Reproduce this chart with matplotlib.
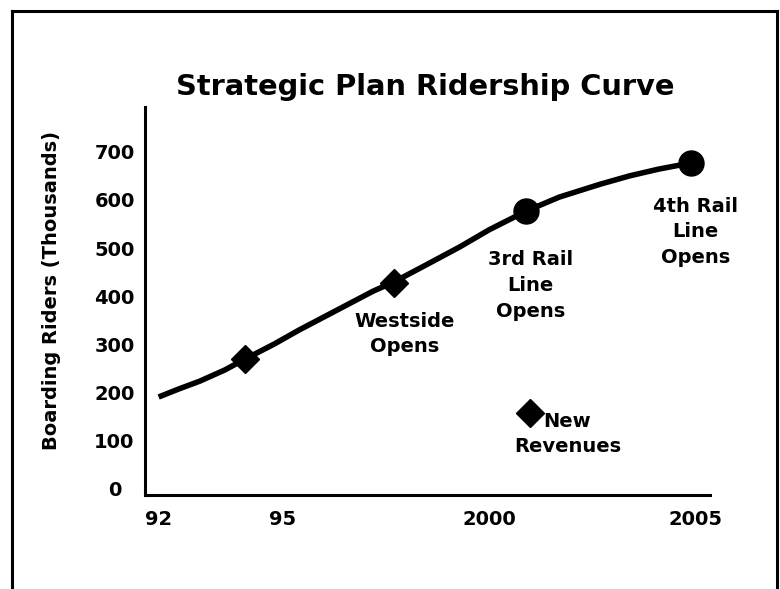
import matplotlib
matplotlib.use("Agg")
import matplotlib.pyplot as plt
from matplotlib.lines import Line2D

# ridership curve (year, thousands of riders)
curve_years = [1992.0, 1992.5, 1993.0, 1993.6, 1994.1, 1994.8, 1995.4, 1996.0, 1996.6, 1997.2,
               1997.7, 1998.45, 1999.3, 2000.0, 2000.9, 2001.7, 2002.7, 2003.4, 2004.1, 2004.9]
curve_riders = [191, 208, 224, 247, 270, 301, 330, 357, 384, 411,
                430, 464, 503, 538, 577, 606, 633, 650, 664, 677]

# milestones on the curve
diamond_years = [1994.1, 1997.7]
diamond_riders = [270, 428]
circle_years = [2000.9, 2004.9]
circle_riders = [577, 677]

# new revenues point
revenue_year = [2001.0]
revenue_riders = [158]

xticks = [1992, 1995, 2000, 2005]
xtick_labels = ["92", "95", "2000", "2005"]
yticks = [0, 100, 200, 300, 400, 500, 600, 700]

plt.rcParams['font.family'] = "DejaVu Sans"
plt.rcParams['font.weight'] = 'bold'

fig = plt.figure(figsize=(7.8, 5.89), dpi=100)
ax = fig.add_axes([0.1859, 0.1596, 0.7244, 0.6587])

ax.plot(curve_years, curve_riders, color='black', lw=4, solid_joinstyle='round',
        solid_capstyle='butt', zorder=2)
ax.plot(diamond_years, diamond_riders, 'D', color='black', ms=14, zorder=3)
ax.plot(circle_years, circle_riders, 'o', color='black', ms=18, zorder=3)
ax.plot(revenue_year, revenue_riders, 'D', color='black', ms=14, zorder=3)

ax.set_xlim(1991.67, 2005.35)
ax.set_ylim(-12.5, 793)

for s in ['top', 'right']:
    ax.spines[s].set_visible(False)
for s in ['left', 'bottom']:
    ax.spines[s].set_linewidth(2.2)

ax.set_xticks(xticks)
ax.set_xticklabels(xtick_labels, fontsize=14, fontweight='bold')
ax.set_yticks(yticks)
ax.set_yticklabels([str(v) for v in yticks], fontsize=14, fontweight='bold')
ax.tick_params(axis='x', length=0, pad=11)
ax.tick_params(axis='y', length=0, pad=22)
for lab in ax.get_yticklabels():
    lab.set_horizontalalignment('center')

# annotations
txt = dict(fontsize=14, fontweight='bold', ha='center', va='center', linespacing=1.45)
ax.text(1997.96, 322, "Westside\nOpens", **txt)
ax.text(2001.0, 422, "3rd Rail\nLine\nOpens", **txt)
ax.text(2004.99, 534, "4th Rail\nLine\nOpens", **txt)
ax.text(2001.9, 114, "New\nRevenues", **txt)

# title and y label
fig.text(425 / 780, 1 - 87 / 589, "Strategic Plan Ridership Curve",
         fontsize=20.8, fontweight='bold', ha='center', va='center')
fig.text(52 / 780, 1 - 291 / 589, "Boarding Riders (Thousands)",
         fontsize=14, fontweight='bold', ha='center', va='center', rotation=90)

# page frame
fig.add_artist(Line2D([12 / 780, 12 / 780], [0, 1 - 11 / 589], color='black', lw=2.2))
fig.add_artist(Line2D([777 / 780, 777 / 780], [0, 1 - 11 / 589], color='black', lw=2.2))
fig.add_artist(Line2D([12 / 780, 777 / 780], [1 - 11 / 589, 1 - 11 / 589], color='black', lw=2.2))

fig.savefig("out.png", dpi=100)
